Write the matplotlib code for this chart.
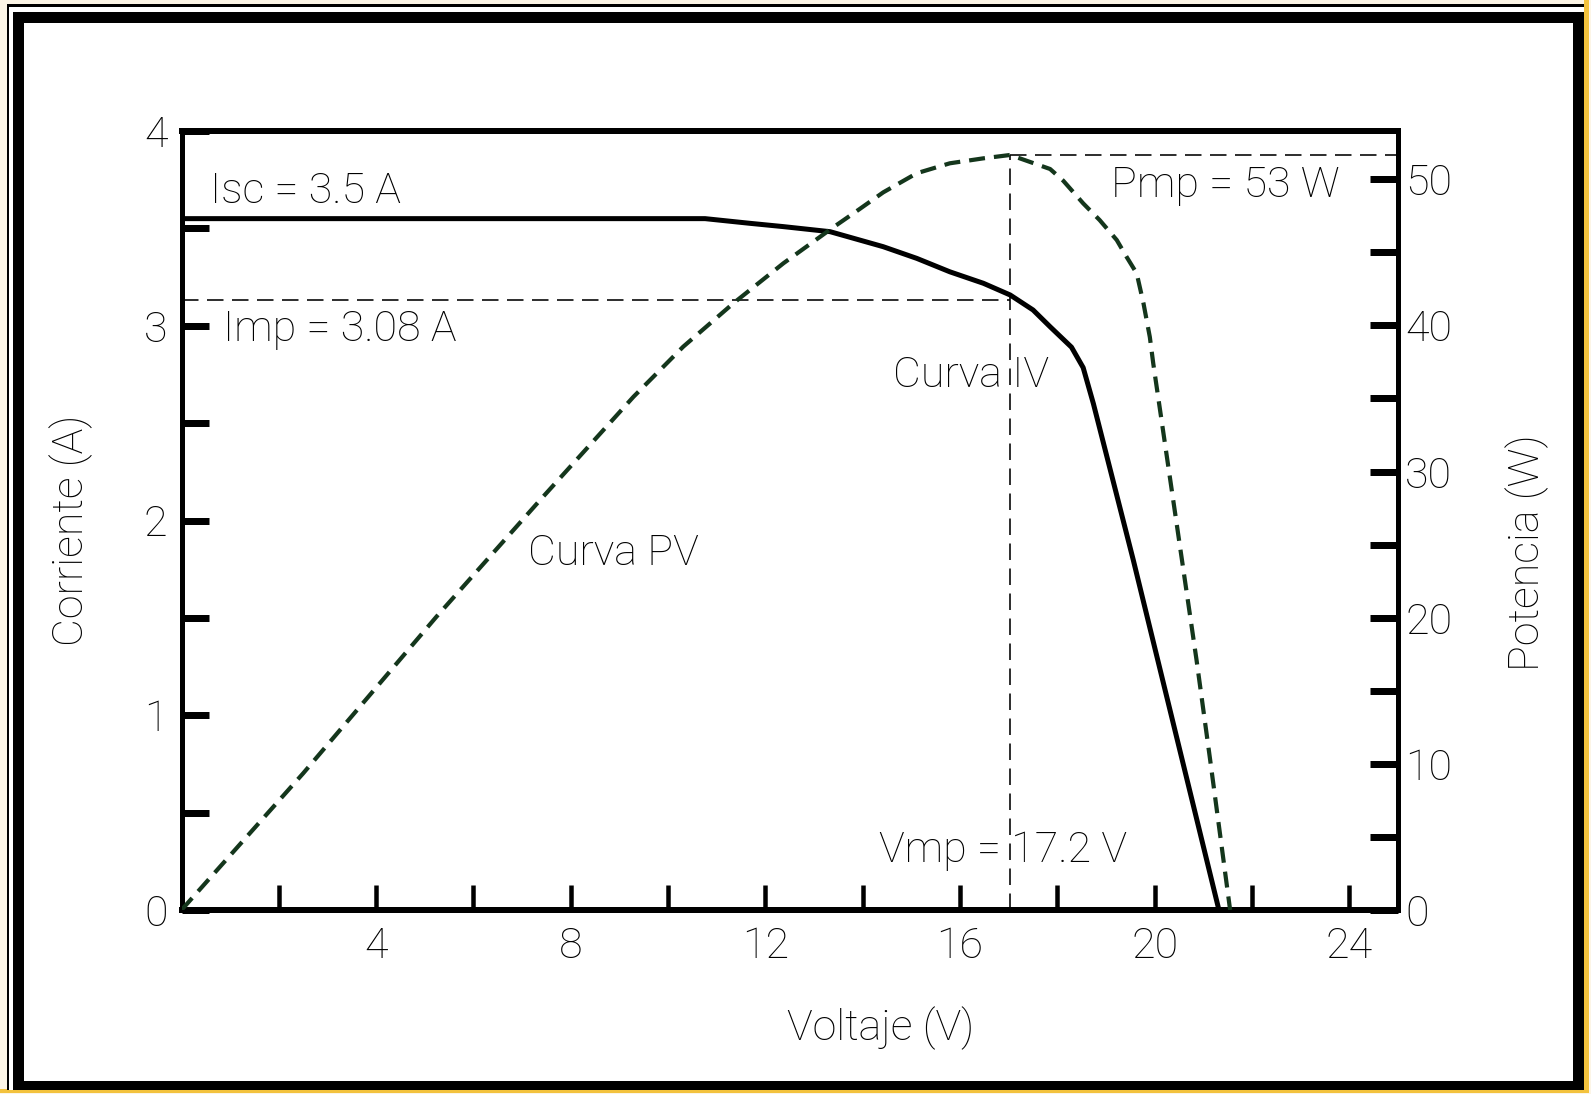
import matplotlib
matplotlib.use("Agg")
import matplotlib.pyplot as plt
from matplotlib.patches import Rectangle
import numpy as np

# ---------------- data ----------------
iv_voltage = [0, 10.76, 11.68, 12.37, 13.33, 14.42, 15.11, 15.79, 16.48, 17.03, 17.5, 17.85,
              18.29, 18.53, 18.74, 19.56, 21.32]
iv_current = [3.55, 3.55, 3.526, 3.509, 3.483, 3.406, 3.346, 3.277, 3.218, 3.158, 3.081, 2.995,
              2.89, 2.785, 2.60, 1.797, 0]

pv_voltage = [0, 2.5, 5.24, 7.37, 9.29, 10.31, 11.34, 12.37, 13.39, 13.91, 14.42, 15.11, 15.79,
              16.48, 17.03, 17.85, 18.12, 18.53, 18.87, 19.22, 19.42, 19.63, 19.77, 19.90,
              19.97, 20.56, 20.86, 21.14, 21.55]
pv_power = [0, 9.35, 20.07, 28.05, 35.12, 38.54, 41.51, 44.25, 46.7, 47.9, 49.1, 50.41, 51.09,
            51.43, 51.66, 50.7, 49.9, 48.35, 47.2, 45.84, 44.7, 43.56, 41.5, 39.2,
            37.4, 23.95, 17.1, 10.26, 0]

imp_level = 3.13     # A
vmp_level = 17.03    # V
pmp_level = 51.66    # W

x_ticks = [2, 4, 6, 8, 10, 12, 14, 16, 18, 20, 22, 24]
x_labels = ["", "4", "", "8", "", "12", "", "16", "", "20", "", "24"]
y_ticks = [0, 0.5, 1, 1.5, 2, 2.5, 3, 3.5, 4]
y_labels = ["0", "", "1", "", "2", "", "3", "", "4"]
y2_ticks = [0, 5, 10, 15, 20, 25, 30, 35, 40, 45, 50]
y2_labels = ["0", "", "10", "", "20", "", "30", "", "40", "", "50"]

annotations = [
    ("Isc = 3.5 A", 0.59, 3.69),
    ("Imp = 3.08 A", 0.85, 2.98),
    ("Pmp = 53 W", 19.1, 3.72),
    ("Curva IV", 14.62, 2.745),
    ("Curva PV", 7.12, 1.833),
    ("Vmp = 17.2 V", 14.33, 0.308),
]

# ---------------- style ----------------
plt.rcParams["font.family"] = ["Roboto", "Liberation Sans", "DejaVu Sans"]
plt.rcParams["font.weight"] = "light"
plt.rcParams["lines.scale_dashes"] = False
FS = 31
PX = 72.0 / 100.0  # points per pixel at dpi 100

W, H = 1591, 1094
fig = plt.figure(figsize=(W / 100, H / 100), dpi=100)
fig.patch.set_facecolor("#fcf5e6")


def rect(x0, y0, x1, y1, color):
    fig.patches.append(Rectangle((x0 / W, 1 - y1 / H), (x1 - x0) / W, (y1 - y0) / H,
                                 transform=fig.transFigure, facecolor=color,
                                 edgecolor="none", zorder=-5))


# frame
rect(1584, 0, 1589, 1093, "#f3c23d")
rect(0, 1089, 1589, 1093, "#f3c23d")
rect(7, 4.3, 1584.3, 1090, "black")
rect(9.3, 7.3, 1584.3, 1090, "white")
rect(12.7, 11.7, 1584.3, 1090, "black")
rect(24, 22.7, 1573.3, 1081, "white")

ax_l, ax_r, ax_t, ax_b = 181.5, 1398, 131, 910
ax = fig.add_axes([ax_l / W, 1 - ax_b / H, (ax_r - ax_l) / W, (ax_b - ax_t) / H])
ax.set_facecolor("none")
ax.set_xlim(0, 25)
ax.set_ylim(0, 4)
ax2 = ax.twinx()
ax2.set_ylim(0, 53.3)

# curves
ax.plot(iv_voltage, iv_current, color="black", lw=5 * PX, solid_joinstyle="round",
        solid_capstyle="butt", zorder=5)
ax2.plot(pv_voltage, pv_power, color="#14361c", lw=4.2 * PX,
         linestyle=(0, (16 * PX, 9 * PX)), dash_capstyle="butt", zorder=5)

# reference lines
ref = dict(color="black", lw=1.6 * PX, linestyle=(0, (16.5 * PX, 8.5 * PX)), zorder=4)
ax.plot([0, vmp_level], [imp_level, imp_level], **ref)
ax2.plot([vmp_level, vmp_level], [0, pmp_level], **ref)
ax2.plot([vmp_level, 25], [pmp_level, pmp_level], **ref)

# ticks
ax.set_xticks(x_ticks)
ax.set_xticklabels(x_labels)
ax.set_yticks(y_ticks)
ax.set_yticklabels(y_labels)
ax2.set_yticks(y2_ticks)
ax2.set_yticklabels(y2_labels)

ax.tick_params(axis="x", direction="in", length=25 * PX, width=4.5 * PX, pad=16 * PX,
               labelsize=FS, top=False)
ax.tick_params(axis="y", direction="in", length=27 * PX, width=7 * PX, pad=14 * PX,
               labelsize=FS, right=False)
ax2.tick_params(axis="y", direction="in", length=28 * PX, width=7 * PX, pad=7 * PX,
                labelsize=FS)

for a in (ax, ax2):
    for side in ("left", "right"):
        a.spines[side].set_linewidth(5 * PX)
    for side in ("top", "bottom"):
        a.spines[side].set_linewidth(6 * PX)

# annotations
for txt, xv, yv in annotations:
    ax.text(xv, yv, txt, fontsize=FS, ha="left", va="center", zorder=6)

# axis labels
fig.text(881 / W, 1 - 1028 / H, "Voltaje (V)", fontsize=FS, ha="center", va="center")
fig.text(71 / W, 1 - 530 / H, "Corriente (A)", fontsize=FS, ha="center", va="center",
         rotation=90)
fig.text(1527 / W, 1 - 553 / H, "Potencia (W)", fontsize=FS, ha="center", va="center",
         rotation=90)

fig.savefig("out.png", dpi=100, facecolor=fig.get_facecolor())
